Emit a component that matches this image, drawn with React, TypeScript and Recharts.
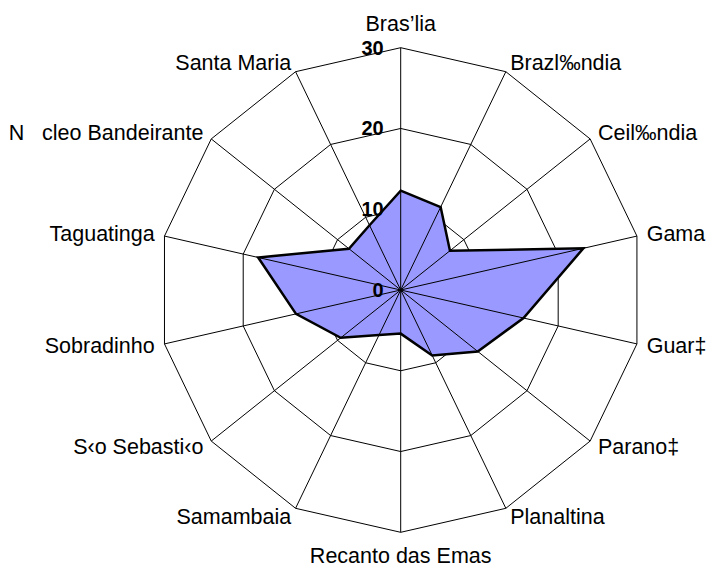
import React from 'react';
import { RadarChart, Radar, PolarGrid, PolarAngleAxis, PolarRadiusAxis } from 'recharts';

const categories = [
  'Bras\u2019lia',
  'Brazl\u2030ndia',
  'Ceil\u2030ndia',
  'Gama',
  'Guar\u2021',
  'Parano\u2021',
  'Planaltina',
  'Recanto das Emas',
  'Samambaia',
  'S\u2039o Sebasti\u2039o',
  'Sobradinho',
  'Taguatinga',
  'N\u00A0\u00A0\u00A0cleo Bandeirante',
  'Santa Maria',
];

const values = [12.3, 11.4, 7.8, 23.2, 15.6, 12.2, 9.0, 5.4, 6.2, 9.5, 13.3, 18.1, 8.2, 8.9];

const radiusTicks = [0, 10, 20, 30];

const data = categories.map((name, i) => ({ name, value: values[i] }));

const CX = 400.7;
const CY = 290;
const R = 242.3;
const FONT = '"Liberation Sans", Arial, sans-serif';

const AngleTick = (props: any) => {
  const { payload } = props;
  const ang = (payload.coordinate * Math.PI) / 180;
  const cos = Math.cos(ang);
  const sin = Math.sin(ang);
  const vx = CX + R * cos;
  const vy = CY - R * sin;
  const x = CX + (R + 10) * cos;
  let y = CY - (R + 10) * sin;
  let anchor: 'start' | 'end' | 'middle' = 'middle';
  if (cos > 0.01) anchor = 'start';
  else if (cos < -0.01) anchor = 'end';
  else y += sin > 0 ? -14 : 14;
  return (
    <g>
      <line x1={CX} y1={CY} x2={vx} y2={vy} stroke="#000" strokeWidth={1} />
      <text
        x={x}
        y={y}
        textAnchor={anchor}
        dominantBaseline="central"
        fontFamily={FONT}
        fontSize={21.5}
        fill="#000"
      >
        {payload.value}
      </text>
    </g>
  );
};

const RadiusTick = (props: any) => {
  const { x, y, payload } = props;
  return (
    <text
      x={x - 17}
      y={y}
      textAnchor="end"
      dominantBaseline="central"
      fontFamily={FONT}
      fontSize={20}
      fontWeight="bold"
      fill="#000"
    >
      {payload.value}
    </text>
  );
};

export default function App() {
  return (
    <div style={{ position: 'absolute', left: 0, top: 0, width: 708, height: 566 }}>
      <RadarChart
        width={708}
        height={566}
        data={data}
        cx={CX}
        cy={CY}
        outerRadius={R}
        startAngle={90}
        endAngle={-270}
        margin={{ top: 0, right: 0, bottom: 0, left: 0 }}
      >
        <PolarGrid gridType="polygon" stroke="#000" strokeWidth={1} radialLines={false} />
        <Radar
          dataKey="value"
          stroke="#000"
          strokeWidth={2.5}
          fill="#9999FF"
          fillOpacity={1}
          dot={false}
          isAnimationActive={false}
        />
        <PolarAngleAxis
          dataKey="name"
          tick={<AngleTick />}
          tickLine={false}
          axisLine={false}
        />
        <PolarRadiusAxis
          angle={90}
          domain={[0, 30]}
          ticks={radiusTicks}
          tick={<RadiusTick />}
          axisLine={false}
          tickLine={false}
        />
      </RadarChart>
    </div>
  );
}
